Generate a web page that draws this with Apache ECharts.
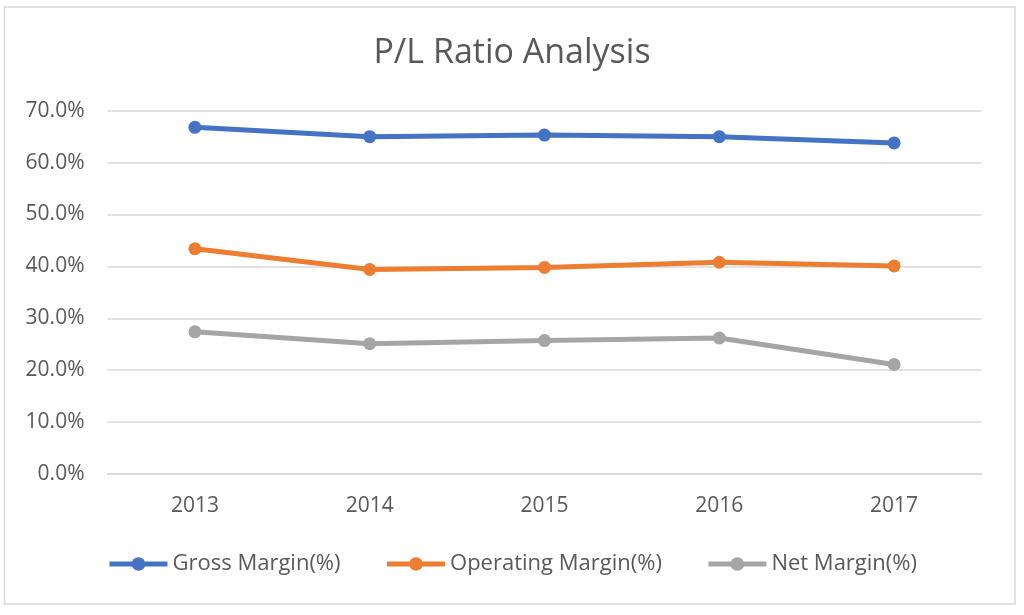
<!DOCTYPE html>
<html>
<head>
    <meta charset="utf-8">
    <title>P/L Ratio Analysis</title>
    <style>
        html, body { margin: 0; padding: 0; background: #fff; }
    </style>
</head>
<body>
    <div id="main" style="width: 1024px;height:615px;"></div>
</body>
<script src="https://cdn.jsdelivr.net/npm/echarts@6/dist/echarts.min.js"></script>
<script>
// years and margins (%)
var years = ['2013', '2014', '2015', '2016', '2017'];
var grossMargin = [66.8, 65.0, 65.3, 65.0, 63.8];
var operatingMargin = [43.4, 39.4, 39.8, 40.8, 40.1];
var netMargin = [27.4, 25.1, 25.7, 26.2, 21.1];
var seriesNames = ['Gross Margin(%)', 'Operating Margin(%)', 'Net Margin(%)'];
var colors = ['#4472C4', '#ED7D31', '#A5A5A5'];

var font = 'Open Sans';
var textColor = '#595959';

var myChart = echarts.init(document.getElementById('main'));

function lineSeries(name, data, color) {
    return {
        name: name,
        type: 'line',
        data: data,
        symbol: 'circle',
        symbolSize: 13,
        lineStyle: { color: color, width: 5 },
        itemStyle: { color: color },
        emphasis: { disabled: true }
    };
}

myChart.setOption({
    color: colors,
    animation: false,
    title: {
        text: 'P/L Ratio Analysis',
        left: 'center',
        top: 31,
        textStyle: {
            color: textColor,
            fontFamily: font,
            fontWeight: 'normal',
            fontSize: 34
        }
    },
    // outer chart frame
    graphic: [{
        type: 'rect',
        shape: { x: 4.5, y: 7, width: 1010.5, height: 597 },
        style: { fill: 'none', stroke: '#d9d9d9', lineWidth: 1.5 },
        silent: true
    }],
    legend: {
        data: seriesNames,
        left: 'center',
        top: 548,
        itemWidth: 58,
        itemHeight: 17,
        itemGap: 44,
        lineStyle: { width: 5 },
        textStyle: {
            color: textColor,
            fontFamily: font,
            fontSize: 22
        }
    },
    grid: {
        left: 107.5,
        right: 42.5,
        top: 110.7,
        bottom: 141,
        containLabel: false
    },
    xAxis: {
        type: 'category',
        data: years,
        boundaryGap: true,
        axisLine: { lineStyle: { color: '#d9d9d9', width: 1.5 } },
        axisTick: { show: false },
        axisLabel: {
            color: textColor,
            fontFamily: font,
            fontSize: 21,
            margin: 22
        }
    },
    yAxis: {
        type: 'value',
        min: 0,
        max: 70,
        interval: 10,
        axisLine: { show: false },
        axisTick: { show: false },
        splitLine: { lineStyle: { color: '#d9d9d9', width: 1.5 } },
        axisLabel: {
            color: textColor,
            fontFamily: font,
            fontSize: 21,
            margin: 23,
            formatter: function (v) { return v.toFixed(1) + '%'; }
        }
    },
    series: [
        lineSeries(seriesNames[0], grossMargin, colors[0]),
        lineSeries(seriesNames[1], operatingMargin, colors[1]),
        lineSeries(seriesNames[2], netMargin, colors[2])
    ]
});
</script>
</html>
